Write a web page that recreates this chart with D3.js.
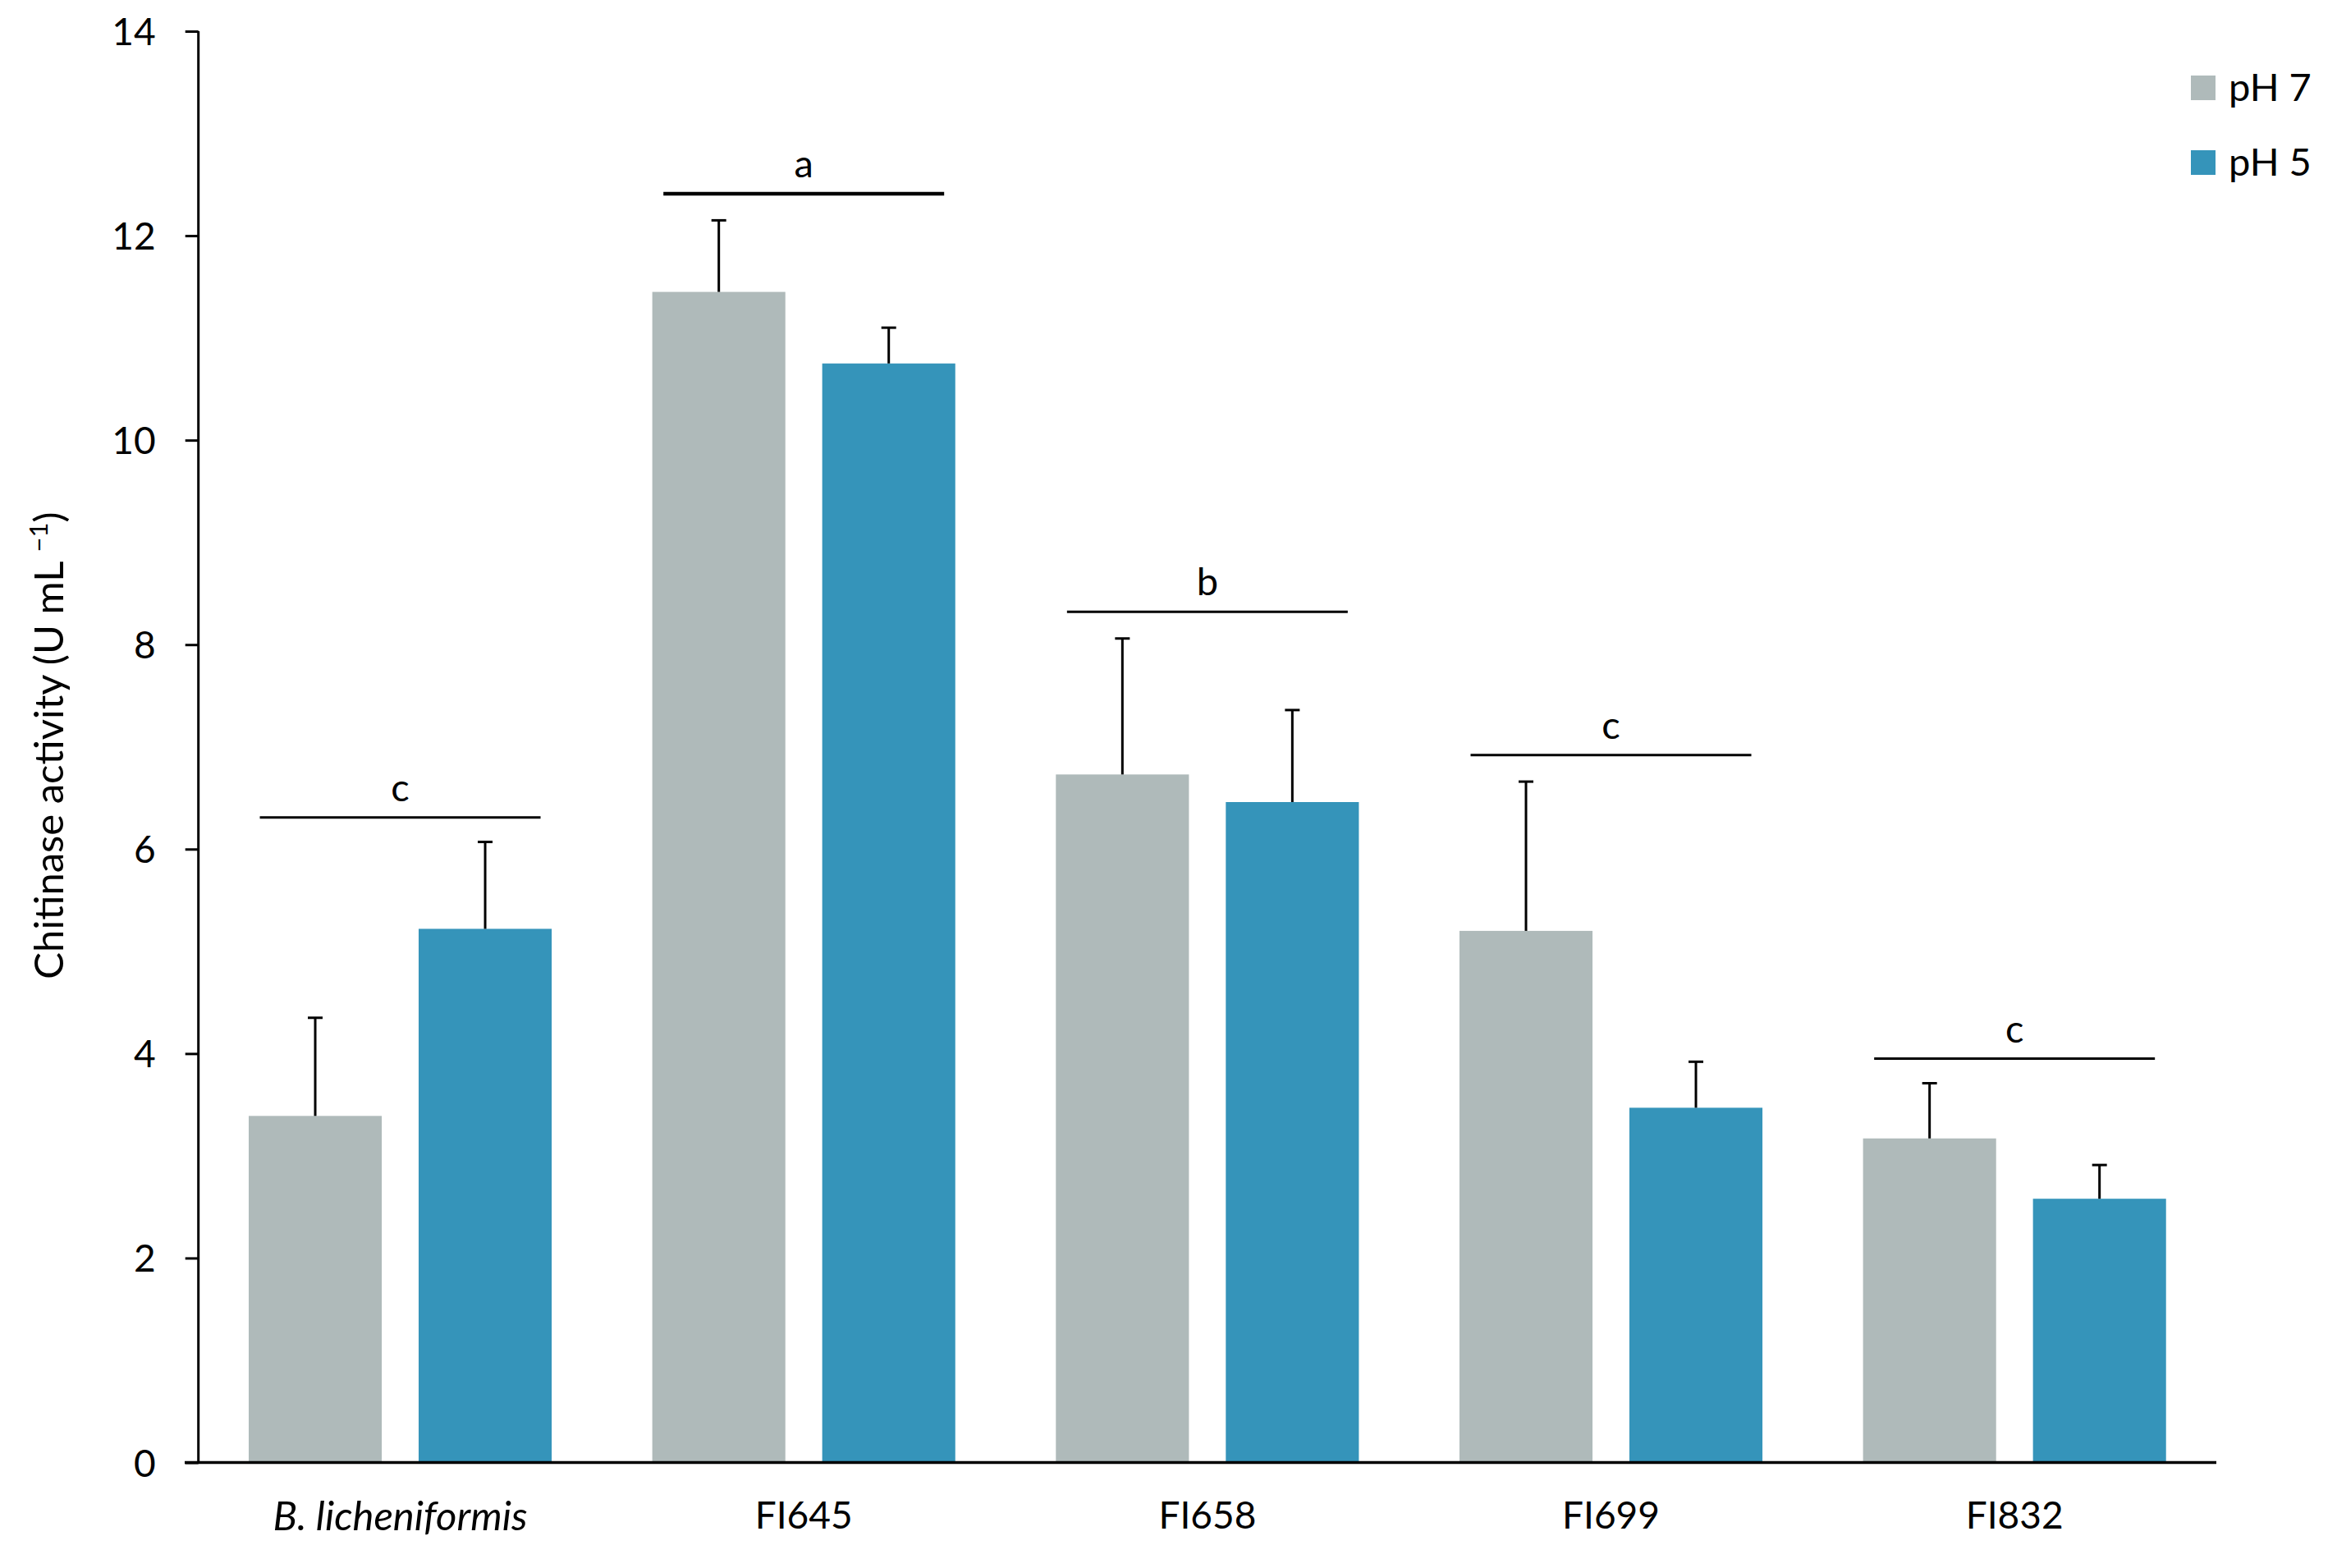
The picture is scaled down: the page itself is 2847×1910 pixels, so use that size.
<!DOCTYPE html>
<html>
<head>
<meta charset="utf-8">
<script src="https://cdn.jsdelivr.net/npm/d3@7"></script>
<style>
  html, body { margin: 0; padding: 0; background: #ffffff; }
  svg { display: block; }
  text { font-family: Lato, "Open Sans", sans-serif; fill: #000; }
</style>
</head>
<body>
<svg id="chart" width="2847" height="1910"></svg>
<script>
// ---- data ----
const categories = ["B. licheniformis", "FI645", "FI658", "FI699", "FI832"];
const seriesNames = ["pH 7", "pH 5"];
const ph7Values = [3.39, 11.45, 6.73, 5.20, 3.17];
const ph7Errors = [0.96, 0.70, 1.33, 1.46, 0.54];
const ph5Values = [5.22, 10.75, 6.46, 3.47, 2.58];
const ph5Errors = [0.85, 0.35, 0.90, 0.45, 0.33];
const groupLetters = ["c", "a", "b", "c", "c"];
const letterLineValues = [6.31, 12.41, 8.32, 6.92, 3.95];
const yTicks = [0, 2, 4, 6, 8, 10, 12, 14];

// ---- layout ----
const W = 2847, H = 1910;
const axisX = 241.7, plotRight = 2700;
const yBottom = 1781.5, yTop = 38;
const colors = { "pH 7": "#afbaba", "pH 5": "#3594ba" };

const svg = d3.select("#chart");

const x0 = d3.scaleBand().domain(categories).range([axisX, plotRight]).padding(0);
const x1 = d3.scaleBand().domain(seriesNames).range([0, x0.bandwidth()])
  .paddingInner(0.217).paddingOuter(0.296);
const y = d3.scaleLinear().domain([0, 14]).range([yBottom, yTop]);

const rows = categories.map((c, i) => ({
  cat: c,
  vals: [
    { s: "pH 7", v: ph7Values[i], e: ph7Errors[i] },
    { s: "pH 5", v: ph5Values[i], e: ph5Errors[i] }
  ]
}));

// bars
const g = svg.append("g");
const groups = g.selectAll("g.grp").data(rows).enter().append("g")
  .attr("class", "grp")
  .attr("transform", d => `translate(${x0(d.cat)},0)`);

groups.selectAll("rect").data(d => d.vals).enter().append("rect")
  .attr("x", d => x1(d.s))
  .attr("y", d => y(d.v))
  .attr("width", x1.bandwidth())
  .attr("height", d => y(0) - y(d.v))
  .attr("fill", d => colors[d.s]);

// error bars (upper only)
const capW = 18;
groups.selectAll("line.err").data(d => d.vals).enter().append("line")
  .attr("class", "err")
  .attr("x1", d => x1(d.s) + x1.bandwidth() / 2)
  .attr("x2", d => x1(d.s) + x1.bandwidth() / 2)
  .attr("y1", d => y(d.v))
  .attr("y2", d => y(d.v + d.e))
  .attr("stroke", "#000").attr("stroke-width", 3);
groups.selectAll("line.cap").data(d => d.vals).enter().append("line")
  .attr("class", "cap")
  .attr("x1", d => x1(d.s) + x1.bandwidth() / 2 - capW / 2)
  .attr("x2", d => x1(d.s) + x1.bandwidth() / 2 + capW / 2)
  .attr("y1", d => y(d.v + d.e))
  .attr("y2", d => y(d.v + d.e))
  .attr("stroke", "#000").attr("stroke-width", 3);

// significance lines & letters
const lineHalf = 171;
categories.forEach((c, i) => {
  const cx = x0(c) + x0.bandwidth() / 2;
  const ly = y(letterLineValues[i]);
  svg.append("line")
    .attr("x1", cx - lineHalf).attr("x2", cx + lineHalf)
    .attr("y1", ly).attr("y2", ly)
    .attr("stroke", "#000").attr("stroke-width", groupLetters[i] === "a" ? 4.5 : 3);
  svg.append("text")
    .attr("x", cx).attr("y", ly - 20)
    .attr("text-anchor", "middle")
    .attr("font-size", 47)
    .text(groupLetters[i]);
});

// y axis
const yAxis = d3.axisLeft(y).tickValues(yTicks).tickSize(16).tickPadding(36).tickFormat(d3.format("d"));
const yg = svg.append("g").attr("transform", `translate(${axisX},0)`).call(yAxis);
yg.select(".domain").remove();
yg.append("line").attr("x1", 0).attr("x2", 0).attr("y1", y(14)).attr("y2", y(0))
  .attr("stroke", "#000").attr("stroke-width", 3);
yg.selectAll(".tick line").attr("stroke", "#000").attr("stroke-width", 3);
yg.selectAll(".tick text").attr("font-size", 46).attr("font-family", "Lato, sans-serif")
  .attr("fill", "#000").attr("dy", "0.36em");

// x axis
const xAxis = d3.axisBottom(x0).tickSize(0).tickPadding(48);
const xg = svg.append("g").attr("transform", `translate(0,${yBottom})`).call(xAxis);
xg.select(".domain").remove();
xg.append("line").attr("x1", 225).attr("x2", plotRight).attr("y1", 0).attr("y2", 0)
  .attr("stroke", "#000").attr("stroke-width", 3.5);
xg.selectAll(".tick text").attr("font-size", d => d === "B. licheniformis" ? 49 : 46)
  .attr("font-family", "Lato, sans-serif")
  .attr("fill", "#000")
  .attr("font-style", d => d === "B. licheniformis" ? "italic" : "normal");

// y-axis title
const yt = svg.append("text")
  .attr("transform", `translate(77,908) rotate(-90)`)
  .attr("text-anchor", "middle")
  .attr("font-size", 49);
yt.append("tspan").text("Chitinase activity (U mL ");
yt.append("tspan").attr("font-size", 31).attr("dy", -19).text("\u22121");
yt.append("tspan").attr("dy", 19).text(")");

// legend
const legend = svg.append("g");
seriesNames.forEach((s, i) => {
  const ly = 92 + i * 91;
  legend.append("rect").attr("x", 2669).attr("y", ly).attr("width", 30).attr("height", 30)
    .attr("fill", colors[s]);
  legend.append("text").attr("x", 2715).attr("y", ly + 31).attr("font-size", 47).text(s);
});
</script>
</body>
</html>
